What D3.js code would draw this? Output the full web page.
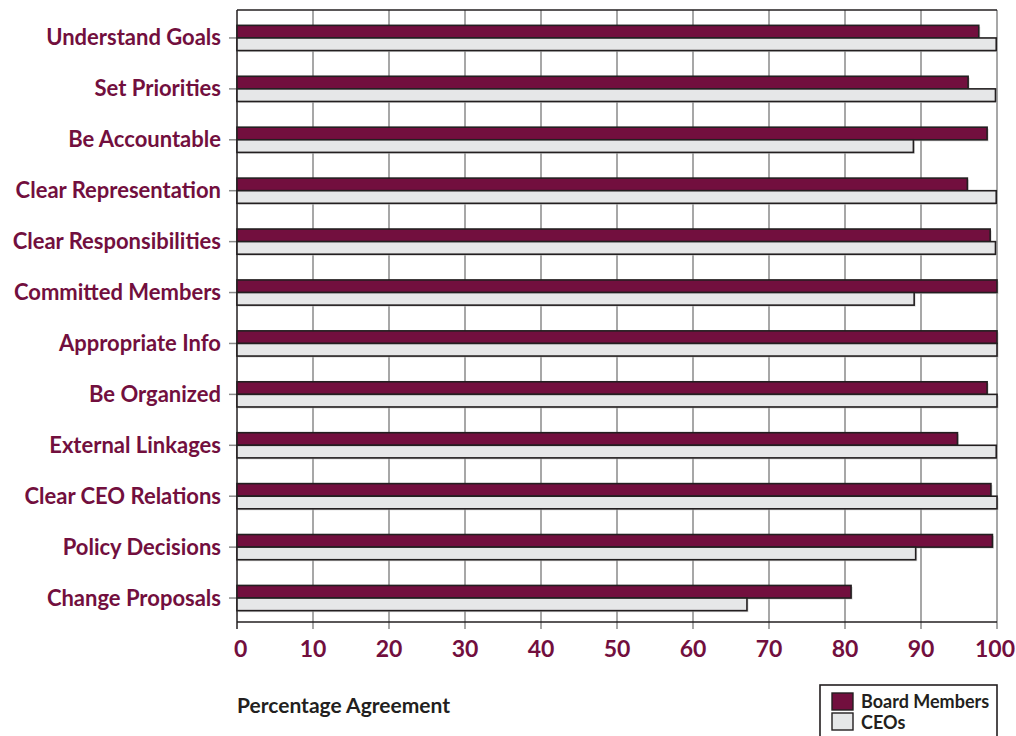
<!DOCTYPE html>
<html><head><meta charset="utf-8">
<script src="https://cdn.jsdelivr.net/npm/d3@7"></script>
<style>body{margin:0;background:#fff}svg{display:block}</style>
</head><body>
<svg id="c" width="1016" height="736"></svg>
<script>
const categories = ["Understand Goals","Set Priorities","Be Accountable","Clear Representation","Clear Responsibilities","Committed Members","Appropriate Info","Be Organized","External Linkages","Clear CEO Relations","Policy Decisions","Change Proposals"];
const boardMembers = [97.6, 96.2, 98.7, 96.1, 99.1, 100, 100, 98.7, 94.8, 99.2, 99.4, 80.8];
const ceos = [99.9, 99.8, 89.0, 99.9, 99.8, 89.1, 100, 100, 99.9, 100, 89.3, 67.1];
const xTicks = [0,10,20,30,40,50,60,70,80,90,100];
const seriesNames = ["Board Members","CEOs"];

const maroon = "#720f3e", dark = "#231f20", light = "#e6e7e8", grid = "#8a8a8a";
const font = "Lato, 'Open Sans', sans-serif";
const svg = d3.select("#c");

const x = d3.scaleLinear().domain([0,100]).range([237, 997]);
const y = d3.scaleBand().domain(categories).range([12.5, 623.5]).padding(0);
const plotTop = 10, plotBottom = 622;
const barH = 12.6;

svg.append("g").selectAll("line").data(xTicks).join("line")
  .attr("x1", d=>x(d)).attr("x2", d=>x(d)).attr("y1", plotTop).attr("y2", plotBottom+7)
  .attr("stroke", d=> d===0 ? dark : grid).attr("stroke-width", 1.5);
svg.append("line").attr("x1", x(0)).attr("x2", x(100)).attr("y1", plotTop).attr("y2", plotTop)
  .attr("stroke", dark).attr("stroke-width", 1.5);
svg.append("g").selectAll("line").data(categories).join("line")
  .attr("x1", x(0)-8).attr("x2", x(0)).attr("y1", d=>y(d)+y.bandwidth()/2).attr("y2", d=>y(d)+y.bandwidth()/2)
  .attr("stroke", grid).attr("stroke-width", 1.5);

const rows = categories.map((c,i)=>({c, b: boardMembers[i], e: ceos[i]}));
const g = svg.append("g");
g.selectAll("rect.sb").data(rows).join("rect").attr("class","sb")
  .attr("x", x(0)+1.5).attr("y", d=>y(d.c)+y.bandwidth()/2-barH+1.5)
  .attr("width", d=>x(d.b)-x(0)).attr("height", barH).attr("fill", "#bdbdbd").attr("opacity",0.6);
g.selectAll("rect.se").data(rows).join("rect").attr("class","se")
  .attr("x", x(0)+1.5).attr("y", d=>y(d.c)+y.bandwidth()/2+1.5)
  .attr("width", d=>x(d.e)-x(0)).attr("height", barH).attr("fill", "#bdbdbd").attr("opacity",0.6);
g.selectAll("rect.b").data(rows).join("rect").attr("class","b")
  .attr("x", x(0)).attr("y", d=>y(d.c)+y.bandwidth()/2-barH)
  .attr("width", d=>x(d.b)-x(0)).attr("height", barH)
  .attr("fill", maroon).attr("stroke", dark).attr("stroke-width", 1.6);
g.selectAll("rect.e").data(rows).join("rect").attr("class","e")
  .attr("x", x(0)).attr("y", d=>y(d.c)+y.bandwidth()/2)
  .attr("width", d=>x(d.e)-x(0)).attr("height", barH)
  .attr("fill", light).attr("stroke", dark).attr("stroke-width", 1.6);

svg.append("line").attr("x1", x(0)).attr("x2", x(100)).attr("y1", plotBottom).attr("y2", plotBottom)
  .attr("stroke", dark).attr("stroke-width", 1.6);

svg.append("g").selectAll("text").data(categories).join("text")
  .attr("x", 221).attr("y", d=>y(d)+y.bandwidth()/2+7.5)
  .attr("text-anchor","end").attr("font-family", font).attr("font-weight", 700)
  .attr("font-size", 22).attr("fill", maroon).text(d=>d);

svg.append("g").selectAll("text").data(xTicks).join("text")
  .attr("x", d=>x(d)).attr("y", 657)
  .attr("text-anchor", d=> d===0 ? "start" : (d===100 ? "end" : "middle"))
  .attr("dx", d=> d===0 ? -3 : (d===100 ? 18 : 0))
  .attr("font-family", font).attr("font-weight", 700).attr("font-size", 23).attr("fill", maroon).text(d=>d);

svg.append("text").attr("x", 237).attr("y", 713).attr("font-family", font).attr("font-weight", 700)
  .attr("font-size", 21).attr("fill", dark).text("Percentage Agreement");

const lg = svg.append("g");
lg.append("rect").attr("x", 820).attr("y", 685).attr("width", 177).attr("height", 60)
  .attr("fill", "#fff").attr("stroke", dark).attr("stroke-width", 1.6);
const colors = [maroon, light];
seriesNames.forEach((s,i)=>{
  lg.append("rect").attr("x", 832).attr("y", 693 + i*20).attr("width", 21).attr("height", 17)
    .attr("fill", colors[i]).attr("stroke", dark).attr("stroke-width", 1.4);
  lg.append("text").attr("x", 861).attr("y", 708 + i*21).attr("font-family", font).attr("font-weight", 700)
    .attr("font-size", 18).attr("fill", dark).text(s);
});
</script>
</body></html>
